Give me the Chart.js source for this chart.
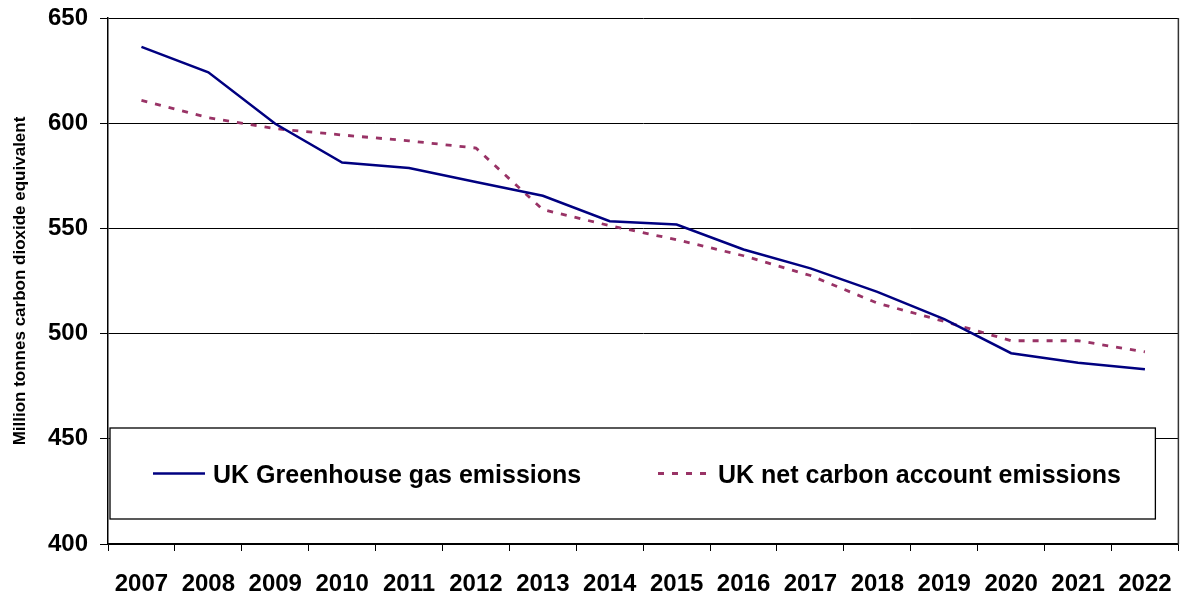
<!DOCTYPE html>
<html>
<head>
<meta charset="utf-8">
<script src="https://cdn.jsdelivr.net/npm/chart.js@4.4.1/dist/chart.umd.min.js"></script>
<style>
  html, body { margin: 0; padding: 0; background: #ffffff; }
  #wrap { width: 1191px; height: 599px; }
</style>
</head>
<body>
<div id="wrap"><canvas id="chart"></canvas></div>
<script>
// Emissions, million tonnes CO2 equivalent
const years = ['2007', '2008', '2009', '2010', '2011', '2012', '2013', '2014',
               '2015', '2016', '2017', '2018', '2019', '2020', '2021', '2022'];
const greenhouseGas = [636.3, 624.2, 599.7, 581.3, 578.7, 572.1, 565.5, 553.4,
                       551.8, 540.0, 531.0, 519.8, 506.9, 490.7, 486.2, 483.1];
const netCarbonAccount = [610.8, 602.6, 597.4, 594.4, 591.6, 588.2, 558.9, 551.3,
                          544.6, 537.0, 527.6, 514.5, 505.8, 496.6, 496.6, 491.3];
const yTicks = [400, 450, 500, 550, 600, 650];

const FONT = "'Liberation Sans', Arial, Helvetica, sans-serif";

// Legend drawn as a framed white box sitting inside the plot area
const boxedLegend = {
  id: 'boxedLegend',
  afterDatasetsDraw(chart, args, opts) {
    const { ctx, chartArea: a } = chart;
    const x0 = a.left + opts.insetLeft;
    const x1 = a.right - opts.insetRight;
    const y0 = opts.top, y1 = opts.bottom;
    ctx.save();
    ctx.fillStyle = '#ffffff';
    ctx.fillRect(x0, y0, x1 - x0, y1 - y0);
    ctx.strokeStyle = '#000000';
    ctx.lineWidth = 1.3;
    ctx.strokeRect(x0, y0, x1 - x0, y1 - y0);
    const yMid = (y0 + y1) / 2;
    chart.data.datasets.forEach((ds, i) => {
      const sx = opts.itemX[i];
      ctx.beginPath();
      ctx.setLineDash(ds.borderDash || []);
      ctx.strokeStyle = ds.borderColor;
      ctx.lineWidth = ds.borderWidth;
      ctx.moveTo(sx, yMid);
      ctx.lineTo(sx + opts.sampleWidth, yMid);
      ctx.stroke();
      ctx.setLineDash([]);
      ctx.fillStyle = '#000000';
      ctx.font = 'bold 25px ' + FONT;
      ctx.textBaseline = 'alphabetic';
      ctx.textAlign = 'left';
      ctx.fillText(ds.label, sx + opts.sampleWidth + 8, yMid + 9);
    });
    ctx.restore();
  }
};

// Right-hand frame line of the plot area
const plotFrame = {
  id: 'plotFrame',
  afterDraw(chart) {
    const { ctx, chartArea: a } = chart;
    ctx.save();
    ctx.strokeStyle = '#333333';
    ctx.lineWidth = 1.5;
    ctx.beginPath();
    ctx.moveTo(a.right, a.top);
    ctx.lineTo(a.right, a.bottom);
    ctx.stroke();
    ctx.restore();
  }
};

new Chart(document.getElementById('chart'), {
  type: 'line',
  data: {
    labels: years,
    datasets: [
      {
        label: 'UK Greenhouse gas emissions',
        data: greenhouseGas,
        borderColor: '#000080',
        borderWidth: 2.5,
        pointRadius: 0,
        tension: 0,
        fill: false
      },
      {
        label: 'UK net carbon account emissions',
        data: netCarbonAccount,
        borderColor: '#993366',
        borderWidth: 2.8,
        borderDash: [6, 8],
        pointRadius: 0,
        tension: 0,
        fill: false
      }
    ]
  },
  options: {
    responsive: true,
    maintainAspectRatio: false,
    animation: false,
    layout: { padding: { top: 18, right: 12, left: 0, bottom: 0 } },
    plugins: {
      legend: { display: false },
      tooltip: { enabled: false },
      boxedLegend: {
        insetLeft: 2, insetRight: 23, top: 428, bottom: 519,
        itemX: [153, 658], sampleWidth: 52
      }
    },
    scales: {
      x: {
        offset: true,
        grid: {
          offset: true,
          drawOnChartArea: false,
          drawTicks: true,
          tickLength: 7,
          color: '#000000',
          lineWidth: 1
        },
        border: { display: true, color: '#000000', width: 1.5 },
        ticks: {
          color: '#000000',
          font: { family: FONT, size: 24, weight: 'bold' },
          padding: 19,
          maxRotation: 0,
          autoSkip: false
        },
        afterFit(scale) { scale.height = 55; scale.paddingTop = 0; scale.paddingBottom = 0; }
      },
      y: {
        min: yTicks[0],
        max: yTicks[yTicks.length - 1],
        afterBuildTicks(scale) { scale.ticks = yTicks.map(v => ({ value: v })); },
        grid: {
          color: '#000000',
          lineWidth: 1,
          tickLength: 8
        },
        border: { display: true, color: '#000000', width: 1.5 },
        ticks: {
          color: '#000000',
          font: { family: FONT, size: 24, weight: 'bold' },
          padding: 12
        },
        title: {
          display: true,
          text: 'Million tonnes carbon dioxide equivalent',
          color: '#000000',
          font: { family: FONT, size: 17, weight: 'bold' },
          padding: { top: 10, bottom: 0 }
        },
        afterFit(scale) {
          scale.width = 108;
          scale.paddingTop = 0;
          scale.paddingBottom = 0;
        }
      }
    }
  },
  plugins: [boxedLegend, plotFrame]
});
</script>
</body>
</html>
